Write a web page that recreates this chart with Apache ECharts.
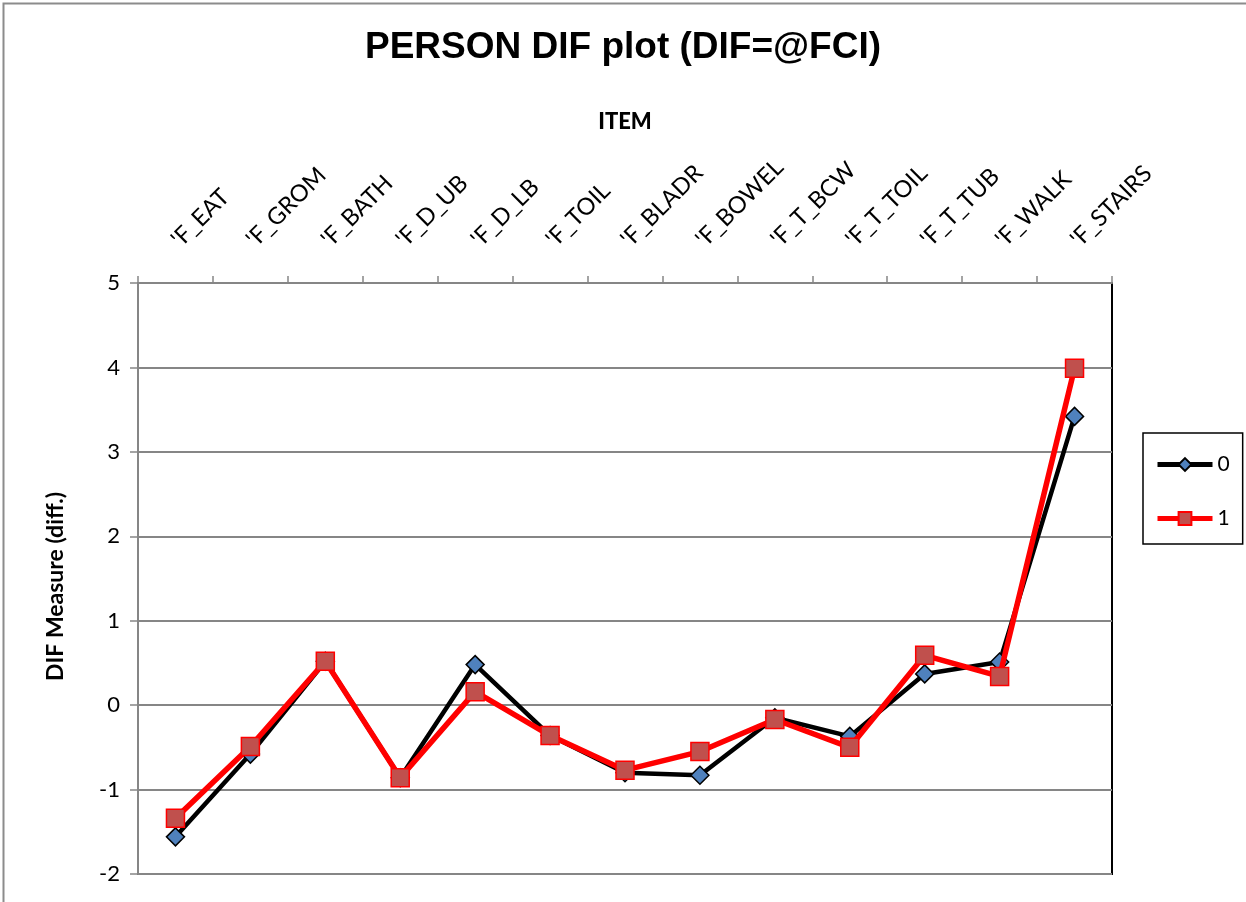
<!DOCTYPE html>
<html>
<head>
<meta charset="utf-8">
<script src="https://cdn.jsdelivr.net/npm/echarts@6/dist/echarts.min.js"></script>
<style>
  html, body { margin: 0; padding: 0; background: #fff; }
  #chart { width: 1246px; height: 902px; }
</style>
</head>
<body>
<div id="chart"></div>
<script>
// Item labels along the top axis
const items = ["'F_EAT", "'F_GROM", "'F_BATH", "'F_D_UB", "'F_D_LB", "'F_TOIL", "'F_BLADR",
  "'F_BOWEL", "'F_T_BCW", "'F_T_TOIL", "'F_T_TUB", "'F_WALK", "'F_STAIRS"];

// DIF measures for each person group
const group0 = [-1.56, -0.58, 0.52, -0.86, 0.48, -0.36, -0.80, -0.83, -0.15, -0.37, 0.37, 0.51, 3.42];
const group1 = [-1.34, -0.49, 0.52, -0.86, 0.16, -0.36, -0.77, -0.55, -0.17, -0.50, 0.59, 0.34, 3.99];

const seriesNames = ['0', '1'];

const chart = echarts.init(document.getElementById('chart'));

const axisFont = 'Lato, "Open Sans", sans-serif';

chart.setOption({
  animation: false,
  backgroundColor: '#fff',
  title: {
    text: 'PERSON DIF plot (DIF=@FCI)',
    left: 'center',
    top: 24,
    textStyle: {
      fontFamily: '"Liberation Sans", Arial, sans-serif',
      fontWeight: 'bold',
      fontSize: 37,
      color: '#000'
    }
  },
  graphic: [
    {
      type: 'rect',
      shape: { x: 3.5, y: 3.5, width: 1250, height: 910 },
      style: { fill: null, stroke: '#8c8c8c', lineWidth: 2 },
      silent: true
    }
  ],
  legend: {
    orient: 'vertical',
    left: 1143,
    top: 433,
    data: seriesNames,
    itemWidth: 55,
    itemHeight: 16,
    itemGap: 33,
    padding: [21, 13, 15, 12],
    borderColor: '#000',
    borderWidth: 1.5,
    lineStyle: { width: 5 },
    textStyle: { fontFamily: axisFont, fontSize: 21, color: '#000' }
  },
  grid: {
    left: 138,
    right: 134,
    top: 283,
    bottom: 28,
    show: true,
    borderColor: '#000',
    borderWidth: 2,
    backgroundColor: '#fff'
  },
  xAxis: {
    type: 'category',
    position: 'top',
    data: items,
    boundaryGap: true,
    name: 'ITEM',
    nameLocation: 'middle',
    nameGap: 150,
    nameTextStyle: { fontFamily: axisFont, fontWeight: 900, fontSize: 22, color: '#000' },
    axisLine: { show: true, onZero: false, lineStyle: { color: '#868686', width: 2 } },
    axisTick: { show: true, length: 7, lineStyle: { color: '#868686', width: 1.5 } },
    axisLabel: {
      rotate: -45,
      margin: 40,
      fontFamily: axisFont,
      fontSize: 23.5,
      color: '#000',
      interval: 0
    },
    splitLine: { show: false }
  },
  yAxis: {
    type: 'value',
    min: -2,
    max: 5,
    interval: 1,
    name: 'DIF Measure (diff.)',
    nameLocation: 'middle',
    nameGap: 71,
    nameRotate: 90,
    nameTextStyle: {
      fontFamily: axisFont, fontWeight: 'bold', fontSize: 23, color: '#000',
      padding: [0, 16, 0, 0]
    },
    axisLine: { show: true, lineStyle: { color: '#868686', width: 2 } },
    axisTick: { show: true, length: 8, lineStyle: { color: '#868686', width: 1.5 } },
    axisLabel: { margin: 18, fontFamily: axisFont, fontSize: 22, color: '#000' },
    splitLine: { show: true, lineStyle: { color: '#868686', width: 2 } }
  },
  series: [
    {
      name: seriesNames[0],
      type: 'line',
      data: group0,
      symbol: 'diamond',
      symbolSize: [18, 18],
      lineStyle: { color: '#000', width: 4.5 },
      itemStyle: { color: '#4F81BD', borderColor: '#000', borderWidth: 1.5 },
      z: 2
    },
    {
      name: seriesNames[1],
      type: 'line',
      data: group1,
      symbol: 'rect',
      symbolSize: 18,
      lineStyle: { color: '#FF0000', width: 5.5 },
      itemStyle: { color: '#C0504D', borderColor: '#FF0000', borderWidth: 1.5 },
      z: 3
    }
  ]
});
</script>
</body>
</html>
